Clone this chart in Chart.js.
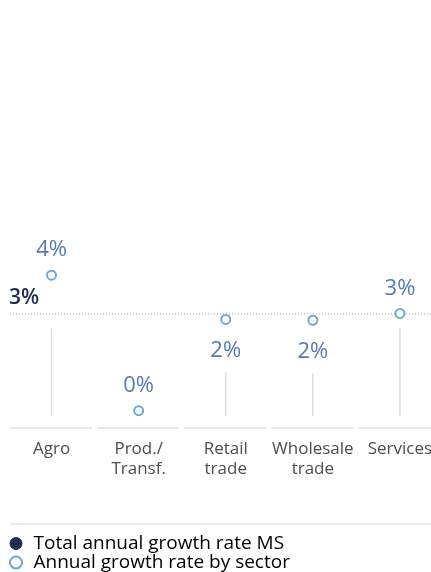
<!DOCTYPE html>
<html>
<head>
<meta charset="utf-8">
<script src="https://cdn.jsdelivr.net/npm/chart.js@4.4.1/dist/chart.umd.min.js"></script>
<style>
	html, body { margin: 0; padding: 0; background: #fff; overflow: hidden; }
	#wrap { position: relative; width: 450px; height: 584px; }
</style>
</head>
<body>
<div id="wrap"><canvas id="growth_chart"></canvas></div>
<script>
// 부문별 연간 성장률
var sectors = [['Agro'], ['Prod./', 'Transf.'], ['Retail', 'trade'], ['Wholesale', 'trade'], ['Services']];
var sectorRates = [3.55, 0.18, 2.45, 2.43, 2.6];
var totalRate = 2.6;
var legendNames = ['Total annual growth rate MS', 'Annual growth rate by sector'];

var NAVY = '#1f2c4c';
var POINT_BLUE = '#6ea8d6';
var LABEL_BLUE = '#5679b3';
var FONT = "'Open Sans', sans-serif";

function pct(v) {
	return Math.round(v) + '%';
}

// 라벨이 전체 평균선과 겹치면 아래쪽에
function labelBelow(v) {
	return v < totalRate && totalRate - v < 0.5;
}

var sectorPlugin = {
	id: 'sectorDeco',
	beforeDatasetsDraw: function (chart) {
		var ctx = chart.ctx;
		var x = chart.scales.x, y = chart.scales.y;
		var area = chart.chartArea;
		var totalY = y.getPixelForValue(totalRate);
		var zeroY = y.getPixelForValue(0) - 2;
		var half = (area.right - area.left) / sectors.length / 2;
		ctx.save();

		// 세로 줄기
		ctx.strokeStyle = '#d9dce2';
		ctx.lineWidth = 1.5;
		sectorRates.forEach(function (v, i) {
			var px = x.getPixelForValue(i);
			var py = y.getPixelForValue(v);
			var start = labelBelow(v) ? py + 53 : Math.max(py, totalY) + 15;
			if (start < zeroY) {
				ctx.beginPath();
				ctx.moveTo(px, start);
				ctx.lineTo(px, zeroY);
				ctx.stroke();
			}
		});

		// 카테고리 구분선
		ctx.strokeStyle = '#dfe2e7';
		ctx.lineWidth = 1.5;
		sectors.forEach(function (s, i) {
			var cx = x.getPixelForValue(i);
			ctx.beginPath();
			ctx.moveTo(cx - half + 2, area.bottom);
			ctx.lineTo(cx + half - 3, area.bottom);
			ctx.stroke();
		});

		// 전체 평균 점선
		ctx.strokeStyle = '#9aa1b0';
		ctx.lineWidth = 1;
		ctx.setLineDash([1, 2]);
		ctx.beginPath();
		ctx.moveTo(area.left + 2, totalY + 0.5);
		ctx.lineTo(chart.width, totalY + 0.5);
		ctx.stroke();
		ctx.setLineDash([]);

		ctx.fillStyle = NAVY;
		ctx.font = '600 21px ' + FONT;
		ctx.textAlign = 'left';
		ctx.textBaseline = 'middle';
		ctx.fillText(pct(totalRate), area.left + 1, totalY - 15);

		// 범례 위 구분선
		var lg = chart.legend;
		ctx.strokeStyle = '#e3e5e9';
		ctx.lineWidth = 1.5;
		ctx.beginPath();
		ctx.moveTo(area.left + 2, lg.top - 10);
		ctx.lineTo(chart.width, lg.top - 10);
		ctx.stroke();
		ctx.restore();
	},
	afterDatasetsDraw: function (chart) {
		var ctx = chart.ctx;
		var x = chart.scales.x, y = chart.scales.y;
		ctx.save();
		ctx.fillStyle = LABEL_BLUE;
		ctx.font = '22px ' + FONT;
		ctx.textAlign = 'center';
		ctx.textBaseline = 'middle';
		sectorRates.forEach(function (v, i) {
			var px = x.getPixelForValue(i);
			var py = y.getPixelForValue(v);
			ctx.fillText(pct(v), px, labelBelow(v) ? py + 31 : py - 25);
		});
		ctx.restore();
	}
};

var growthChart = new Chart(document.getElementById('growth_chart'), {
	type: 'line',
	data: {
		labels: sectors,
		datasets: [{
			label: legendNames[0],
			data: [],
			borderColor: NAVY,
			backgroundColor: NAVY
		}, {
			label: legendNames[1],
			data: sectorRates,
			showLine: false,
			pointRadius: 4.5,
			pointBorderWidth: 2,
			pointBorderColor: POINT_BLUE,
			pointBackgroundColor: '#fff',
			borderColor: POINT_BLUE,
			backgroundColor: '#fff'
		}]
	},
	options: {
		responsive: true,
		maintainAspectRatio: false,
		animation: false,
		layout: { padding: { left: 8, right: 0, top: 229, bottom: 2 } },
		scales: {
			x: {
				offset: true,
				grid: { display: false, drawTicks: false },
				border: { display: false },
				ticks: {
					autoSkip: false,
					maxRotation: 0,
					padding: 11,
					color: '#4d4d4d',
					font: { family: FONT, size: 17, lineHeight: 1.18 }
				},
				afterFit: function (scale) { scale.height = 106; }
			},
			y: {
				display: false,
				min: -0.25,
				max: 4.7
			}
		},
		plugins: {
			tooltip: { enabled: false },
			legend: {
				position: 'bottom',
				align: 'start',
				labels: {
					usePointStyle: true,
					boxWidth: 16,
					boxHeight: 8.5,
					padding: 0,
					color: '#333846',
					font: { family: FONT, size: 19 },
					generateLabels: function (chart) {
						return [
							{ text: legendNames[0], fillStyle: NAVY, strokeStyle: NAVY, lineWidth: 1, pointStyle: 'circle', datasetIndex: 0 },
							{ text: legendNames[1], fillStyle: '#fff', strokeStyle: POINT_BLUE, lineWidth: 2, pointStyle: 'circle', datasetIndex: 1 }
						];
					}
				}
			}
		}
	},
	plugins: [sectorPlugin]
});
</script>
</body>
</html>
